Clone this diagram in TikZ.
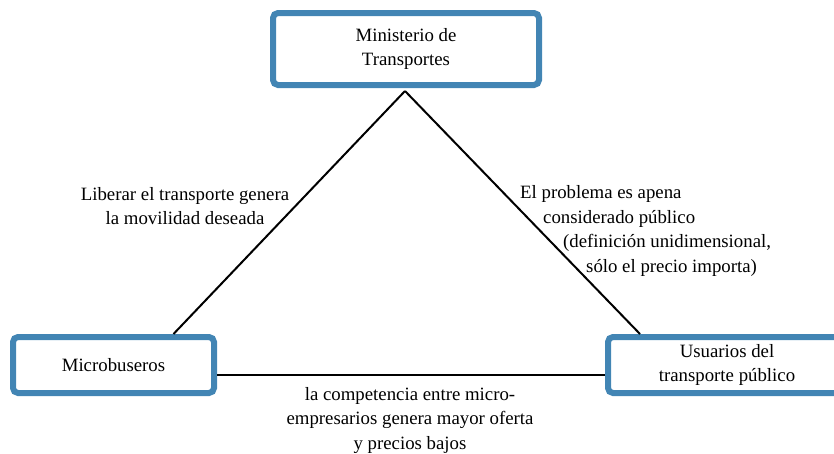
\documentclass[tikz,border=0pt]{standalone}
\usepackage{fontspec}
\setmainfont{Liberation Serif}
\definecolor{boxblue}{RGB}{66,133,180}
\usetikzlibrary{positioning,calc}

\begin{document}
\begin{tikzpicture}[x=1pt,y=-1pt,
    every node/.style={font=\rmfamily\fontsize{18.8}{24.5}\selectfont},
    actor/.style={draw=boxblue,line width=6pt,rounded corners=5pt,inner sep=0pt,align=center},
    lbl/.style={align=center,inner sep=0pt},
    edge/.style={line width=2pt}
    ]
    \useasboundingbox (0,0) rectangle (834,453);

    \node (mint) [actor,minimum width=266pt,minimum height=72pt] at (406,49) {Ministerio de\\Transportes};
    \node (micro) [actor,minimum width=201pt,minimum height=56pt] at (113.5,365) {Microbuseros};
    \node (usu) [actor,minimum width=238pt,minimum height=56pt] at (727,365) {Usuarios del\\transporte p\'ublico};
    \coordinate (apex) at (405,91);

    % the edges
    \draw[edge] (apex) -- ($(micro.north)+(60,0)$);
    \draw[edge] (apex) -- ($(usu.north)+(-87,0)$);
    \draw[edge] ($(micro.east)+(0,10)$) -- ($(usu.west)+(0,10)$);

    % the labels
    \node (lib) [lbl] at (185,206) {Liberar el transporte genera\\la movilidad deseada};
    \node (prob) [lbl,align=left,anchor=west] at (520,231) {El problema es apena\\\hspace*{23pt}considerado p\'ublico\\\hspace*{43pt}(definici\'on unidimensional,\\\hspace*{66pt}s\'olo el precio importa)};
    \node (comp) [lbl] at (410,420) {la competencia entre micro-\\empresarios genera mayor oferta\\y precios bajos};
\end{tikzpicture}
\end{document}
